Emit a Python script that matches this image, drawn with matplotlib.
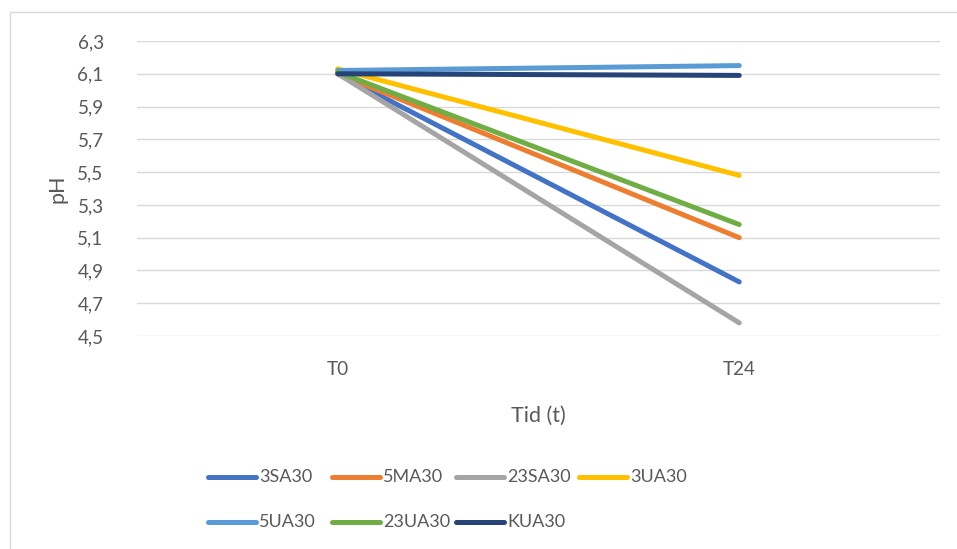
import matplotlib
matplotlib.use("Agg")
import matplotlib.pyplot as plt
from matplotlib.lines import Line2D
from matplotlib.patches import Rectangle

times = ["T0", "T24"]
series_names = ["3SA30", "5MA30", "23SA30", "3UA30", "5UA30", "23UA30", "KUA30"]
ph_t0 = [6.10, 6.10, 6.10, 6.13, 6.12, 6.11, 6.10]
ph_t24 = [4.83, 5.10, 4.58, 5.48, 6.15, 5.18, 6.09]
colors = ["#4472C4", "#ED7D31", "#A5A5A5", "#FFC000", "#5B9BD5", "#70AD47", "#264478"]
y_ticks = [4.5, 4.7, 4.9, 5.1, 5.3, 5.5, 5.7, 5.9, 6.1, 6.3]

plt.rcParams["font.family"] = ["Lato", "DejaVu Sans"]
text_color = "#595959"
tick_size = 13.6
legend_size = 13.0

W, H = 957, 549
fig = plt.figure(figsize=(W / 100, H / 100), dpi=100)
ax = fig.add_axes([137 / W, 1 - 336 / H, (940 - 137) / W, (336 - 41) / H])

for name, a, b, c in zip(series_names, ph_t0, ph_t24, colors):
    ax.plot([0, 1], [a, b], color=c, lw=3.6, solid_capstyle="round", label=name)

ax.set_xlim(-0.5, 1.5)
ax.set_ylim(4.5, 6.3)
ax.set_xticks([0, 1])
ax.set_xticklabels(times)
ax.set_yticks(y_ticks)
ax.set_yticklabels([f"{v:.1f}".replace(".", ",") for v in y_ticks])
ax.tick_params(axis="both", length=0, labelsize=tick_size, colors=text_color)
ax.tick_params(axis="y", pad=24)
ax.tick_params(axis="x", pad=18)
ax.grid(axis="y", color="#D9D9D9", lw=1.0)
ax.set_axisbelow(True)
for s in ax.spines.values():
    s.set_visible(False)

ax.set_xlabel("Tid (t)", fontsize=15.5, color=text_color, labelpad=20)
ax.set_ylabel("pH", fontsize=15.5, color=text_color, labelpad=7)

# chart frame
fig.patches.append(Rectangle((10 / W, -0.05), 1.2, 1 - 12 / H + 0.05,
                             transform=fig.transFigure, fill=False,
                             edgecolor="#D9D9D9", lw=1.0))

# legend laid out as two rows of equal-width columns
col_x = [208, 332, 456, 579]
row_y = [477, 522]
for i, (name, c) in enumerate(zip(series_names, colors)):
    r, k = divmod(i, 4)
    x0 = col_x[k]
    y = 1 - row_y[r] / H
    fig.add_artist(Line2D([x0 / W, (x0 + 48) / W], [y, y], transform=fig.transFigure,
                          color=c, lw=3.6, solid_capstyle="round"))
    fig.text((x0 + 51) / W, y, name, fontsize=legend_size, color=text_color,
             va="center", ha="left")

fig.savefig("out.png", dpi=100)
